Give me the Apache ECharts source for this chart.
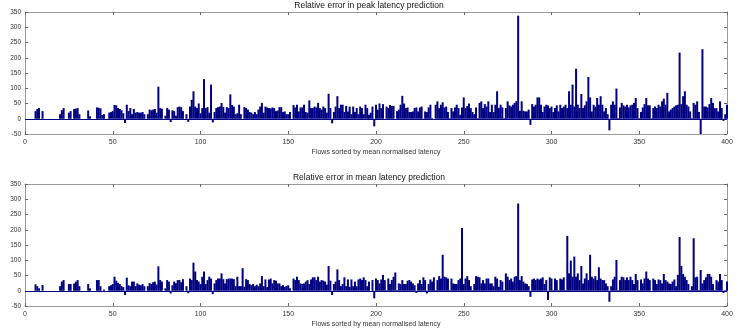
<!DOCTYPE html>
<html>
<head>
<meta charset="utf-8">
<script src="https://cdn.jsdelivr.net/npm/echarts@6/dist/echarts.min.js"></script>
<style>
  html, body { margin: 0; padding: 0; background: #fff; }
  #chart { width: 738px; height: 328px; }
</style>
</head>
<body>
<div id="chart"></div>
<script>
// tick labels
const xTicks = [0, 50, 100, 150, 200, 250, 300, 350, 400]
const yTicks = [-50, 0, 50, 100, 150, 200, 250, 300, 350]

// relative error in peak latency prediction, flows 1..400
const peakError = [
  0, 0, 0, 0, 0, 25, 32, 35, 0, 25, 0, 0, 0, 0, 0, 0, 0, 0, 0, 15,
  28, 35, 0, 0, 20, 25, 0, 32, 33, 35, 15, 0, 0, 0, 0, 27, 8, 0, 0, 0,
  37, 36, 34, 12, 15, 0, 0, 20, 22, 25, 45, 44, 35, 32, 28, 18, -14, 46, 25, 35,
  15, 32, 20, 22, 20, 20, 22, 15, 0, 15, 30, 28, 30, 32, 20, 105, 35, 33, 0, 10,
  35, 30, -11, 28, 25, 10, 38, 40, 38, 25, 0, 15, -10, 40, 62, 90, 40, 35, 50, 18,
  35, 130, 35, 38, 20, 112, -12, 22, 35, 38, 40, 52, 38, 20, 38, 35, 80, 45, 40, 15,
  18, 46, 15, 0, 38, 35, 30, 22, 20, 15, 22, 15, 30, 40, 52, 20, 40, 37, 35, 34,
  37, 35, 25, 27, 38, 38, 22, 24, 15, 15, 22, 0, 45, 37, 46, 24, 37, 37, 46, 22,
  20, 60, 35, 35, 40, 37, 52, 35, 30, 40, 35, 20, 82, 35, -15, 22, 40, 74, 35, 46,
  46, 22, 42, 24, 40, 15, 40, 22, 35, 15, 40, 35, 15, 46, 35, 13, 20, 40, -25, 46,
  30, 50, 35, 48, 0, 40, 35, 45, 42, 42, 0, 25, 30, 46, 75, 50, 35, 37, 22, 22,
  24, 35, 37, 24, 37, 40, -3, 24, 22, 37, 46, 2, 0, 46, 57, 35, 46, 54, 37, 40,
  22, 2, 35, 24, 37, 46, 35, 13, 37, 70, 35, 42, 50, 35, 22, 15, 37, 2, 52, 57,
  35, 48, 40, 57, 22, 46, 22, 46, 90, 35, 46, 37, 2, 35, 57, 44, 40, 46, 52, 58,
  338, 26, 57, 26, 24, 24, 30, -20, 48, 40, 46, 70, 70, 46, 22, 40, 46, 44, 35, 40,
  22, 35, 44, 24, 46, 35, 40, 46, 35, 90, 46, 112, 40, 164, 46, 35, 81, 35, 44, 57,
  137, 70, 24, 46, 40, 68, 46, 74, 46, 24, 35, 15, -38, 46, 57, 46, 99, 2, 37, 52,
  44, 40, 46, 37, 44, 46, 52, 68, 35, 2, 22, 37, 48, 68, 44, 44, 2, 35, 40, 35,
  46, 40, 57, 66, 46, 85, 24, 30, 35, 40, 44, 46, 217, 48, 74, 90, 46, 40, 24, 2,
  52, 46, 57, 22, -58, 228, 40, 40, 37, 48, 68, 52, 35, 35, 24, 57, 35, -7, 15, 46,
]

// relative error in mean latency prediction, flows 1..400
const meanError = [
  0, 0, 0, 0, 0, 21, 15, 8, 0, 19, 0, 0, 0, 0, 0, 0, 0, 0, 0, 15,
  30, 35, 0, 0, 22, 22, 0, 24, 30, 35, 15, 0, 0, 0, 0, 22, 8, 0, 0, 0,
  35, 35, 15, 0, 4, 0, 0, 15, 18, 22, 46, 33, 26, 22, 15, 12, -14, 43, 18, 15,
  30, 30, 15, 24, 20, 18, 22, 15, 0, 15, 25, 22, 28, 30, 20, 80, 35, 30, 0, 8,
  35, 30, -9, 18, 30, 25, 35, 35, 28, 38, 0, 15, -8, 40, 35, 92, 63, 35, 30, 22,
  46, 63, 22, 35, 46, 40, -11, 24, 35, 40, 40, 57, 38, 24, 38, 40, 40, 40, 38, 15,
  46, 15, 15, 74, 13, 38, 35, 22, 18, 22, 15, 20, 15, 24, 48, 15, 37, 12, 37, 40,
  24, 35, 33, 24, 24, 15, 18, 13, 15, 18, 8, 0, 40, 35, 46, 35, 24, 22, 24, 30,
  35, 22, 37, 44, 44, 35, 46, 30, 35, 33, 30, 20, 81, 33, -14, 22, 30, 70, 35, 15,
  22, 44, 15, 37, 13, 37, 15, 30, 15, 37, 40, 35, 44, 35, 15, 30, 0, 35, -25, 40,
  35, 24, 37, 52, 35, 2, 40, 22, 35, 46, 60, 2, 24, 22, 35, 22, 22, 33, 35, 30,
  24, 18, -7, 24, 35, 22, 44, 35, -9, 22, 37, 30, 44, 2, 35, 48, 40, 118, 46, 44,
  40, 2, 40, 24, 22, 22, 35, 40, 206, 22, 40, 48, 35, 15, 2, 22, 48, 46, 44, 24,
  35, 24, 40, 40, 24, 24, 15, 46, 40, 13, 35, 30, 2, 57, 46, 35, 40, 30, 46, 48,
  286, 35, 48, 30, 24, 22, 15, -20, 37, 40, 35, 40, 37, 40, 44, 22, 35, -30, 44, 40,
  2, 40, 35, 2, 40, 37, 44, 2, 180, 57, 99, 46, 112, 46, 57, 35, 81, 24, 40, 57,
  35, 118, 46, 40, 48, 35, 77, 40, 35, 35, 24, 15, -36, 15, 37, 46, 101, 2, 35, 46,
  44, 35, 44, 35, 46, 35, 22, 55, 35, 2, 37, 24, 40, 63, 40, 35, 0, 40, 35, 22,
  37, 35, 24, 55, 35, 30, 24, 22, 30, 37, 15, 52, 176, 81, 55, 46, 35, 22, 2, 15,
  172, 44, 46, 2, 68, 24, 35, 44, 55, 55, 46, 22, 2, 35, 30, 55, 35, -7, 2, 30,
]

const titles = ['Relative error in peak latency prediction', 'Relative error in mean latency prediction']
const xName = 'Flows sorted by mean normalised latency'
const yName = 'Relative error for LSI model (percent)'

const barColor = '#000082'
const boxColor = '#9a9a9a'
const textColor = '#333'
const font = 'Liberation Sans, Arial, Helvetica, sans-serif'

const chart = echarts.init(document.getElementById('chart'))

const gridTops = [12, 184]
const xAxes = []
const yAxes = []
const series = []

function xAxisFor(gi, pos, showLabel) {
  return {
    type: 'value',
    gridIndex: gi,
    position: pos,
    min: xTicks[0],
    max: xTicks[xTicks.length - 1],
    interval: xTicks[1] - xTicks[0],
    name: showLabel ? xName : '',
    nameLocation: 'middle',
    nameGap: 15,
    nameTextStyle: { fontSize: 7, color: textColor, fontFamily: font },
    axisLine: { show: true, onZero: false, lineStyle: { color: boxColor, width: 1 } },
    axisTick: { show: true, inside: true, length: 3, lineStyle: { color: '#666' } },
    axisLabel: { show: showLabel, fontSize: 7, color: textColor, margin: 5, fontFamily: font },
    splitLine: { show: false },
  }
}

function yAxisFor(gi, pos, showLabel) {
  return {
    type: 'value',
    gridIndex: gi,
    position: pos,
    min: yTicks[0],
    max: yTicks[yTicks.length - 1],
    interval: yTicks[1] - yTicks[0],
    name: showLabel ? yName : '',
    nameLocation: 'middle',
    nameRotate: 90,
    nameGap: 17,
    nameTextStyle: { fontSize: 6.5, color: textColor, fontFamily: font },
    axisLine: { show: true, onZero: false, lineStyle: { color: boxColor, width: 1 } },
    axisTick: { show: true, inside: true, length: 3, lineStyle: { color: '#666' } },
    axisLabel: { show: showLabel, fontSize: 6.5, color: textColor, margin: 4, fontFamily: font },
    splitLine: { show: false },
  }
}

;[peakError, meanError].forEach((vals, gi) => {
  xAxes.push(xAxisFor(gi, 'bottom', true))
  xAxes.push(xAxisFor(gi, 'top', false))
  yAxes.push(yAxisFor(gi, 'left', true))
  yAxes.push(yAxisFor(gi, 'right', false))
  series.push({
    type: 'bar',
    xAxisIndex: gi * 2,
    yAxisIndex: gi * 2,
    data: vals.map((v, i) => [i + 1, v]),
    barWidth: 2,
    itemStyle: { color: barColor },
    silent: true,
    markLine: {
      silent: true,
      symbol: 'none',
      label: { show: false },
      lineStyle: { color: barColor, width: 1, type: 'solid' },
      data: [{ yAxis: 0 }],
    },
  })
})

chart.setOption({
  animation: false,
  backgroundColor: '#fff',
  title: titles.map((t, i) => ({
    text: t,
    left: 'center',
    top: gridTops[i] - 16,
    textStyle: { fontSize: 8.5, fontWeight: 'normal', color: '#111', fontFamily: font },
  })),
  grid: gridTops.map((t) => ({
    left: 25, right: 11, top: t, height: 122,
    containLabel: false, outerBoundsMode: 'none',
  })),
  xAxis: xAxes,
  yAxis: yAxes,
  series,
})
</script>
</body>
</html>
